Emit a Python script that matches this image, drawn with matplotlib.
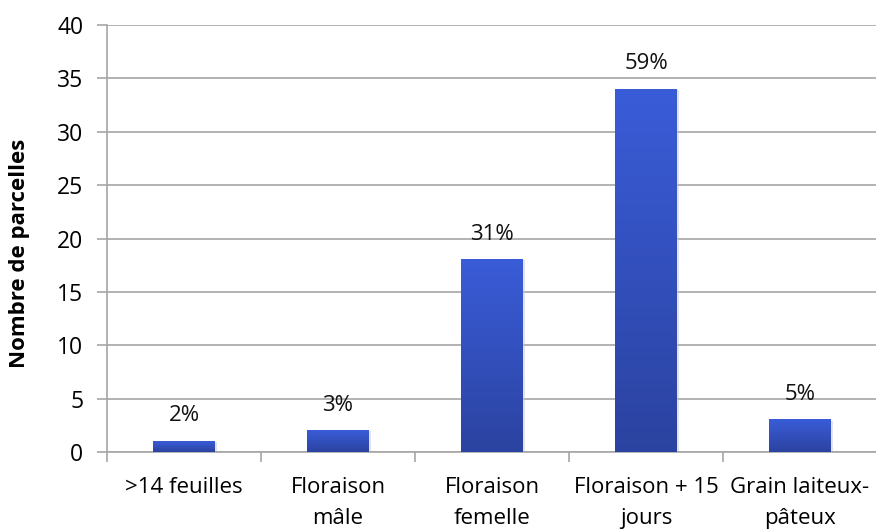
import matplotlib.pyplot as plt
import numpy as np
from matplotlib.patches import Rectangle
from matplotlib.colors import LinearSegmentedColormap

plt.rcParams['font.family'] = ['Open Sans', 'DejaVu Sans']

categories = ['>14 feuilles', 'Floraison\nmâle', 'Floraison\nfemelle',
              'Floraison + 15\njours', 'Grain laiteux-\npâteux']
counts = [1, 2, 18, 34, 3]
percents = ['2%', '3%', '31%', '59%', '5%']

fig = plt.figure(figsize=(8.76, 5.31), dpi=100)
ax = fig.add_axes([107 / 876, 1 - 452 / 531, 770 / 876, 427 / 531])

x = np.arange(len(counts))
width = 0.4
grad = np.linspace(0, 1, 256).reshape(-1, 1)
cmap = LinearSegmentedColormap.from_list('bl', ['#2b43a0', '#3a5cd8'])

for xi, c, p in zip(x, counts, percents):
    # faint shadow
    ax.add_patch(Rectangle((xi - width / 2 + 0.012, 0), width, c - 0.05,
                           color='#c8c8c8', alpha=0.5, zorder=2, lw=0))
    ax.imshow(grad, extent=(xi - width / 2, xi + width / 2, 0, c),
              origin='lower', aspect='auto', cmap=cmap, zorder=3)
    ax.text(xi, c + 2.4, p, ha='center', va='center', fontsize=16,
            color='#111111')

ax.set_xlim(-0.5, len(counts) - 0.5)
ax.set_ylim(0, 40)
ax.set_yticks(range(0, 41, 5))
ax.yaxis.grid(True, color='#a6a6a6', lw=1.2)
ax.set_axisbelow(True)

ax.set_xticks(x)
ax.set_xticklabels(categories, fontsize=16, linespacing=1.65)
ax.set_xticks(np.arange(-0.5, len(counts), 1), minor=True)
ax.tick_params(axis='x', which='major', length=0, pad=18)
ax.tick_params(axis='x', which='minor', length=7, color='#a6a6a6', width=1.2)
ax.tick_params(axis='y', length=7, color='#a6a6a6', width=1.2,
               labelsize=16.5, pad=10)

for s in ['top', 'right']:
    ax.spines[s].set_visible(False)
for s in ['left', 'bottom']:
    ax.spines[s].set_color('#a6a6a6')
    ax.spines[s].set_linewidth(1.2)

ax.set_ylabel('Nombre de parcelles', fontsize=16, fontweight='bold',
              va='center')
ax.yaxis.set_label_coords(-0.113, 0.464)

fig.savefig('out.png', dpi=100)
